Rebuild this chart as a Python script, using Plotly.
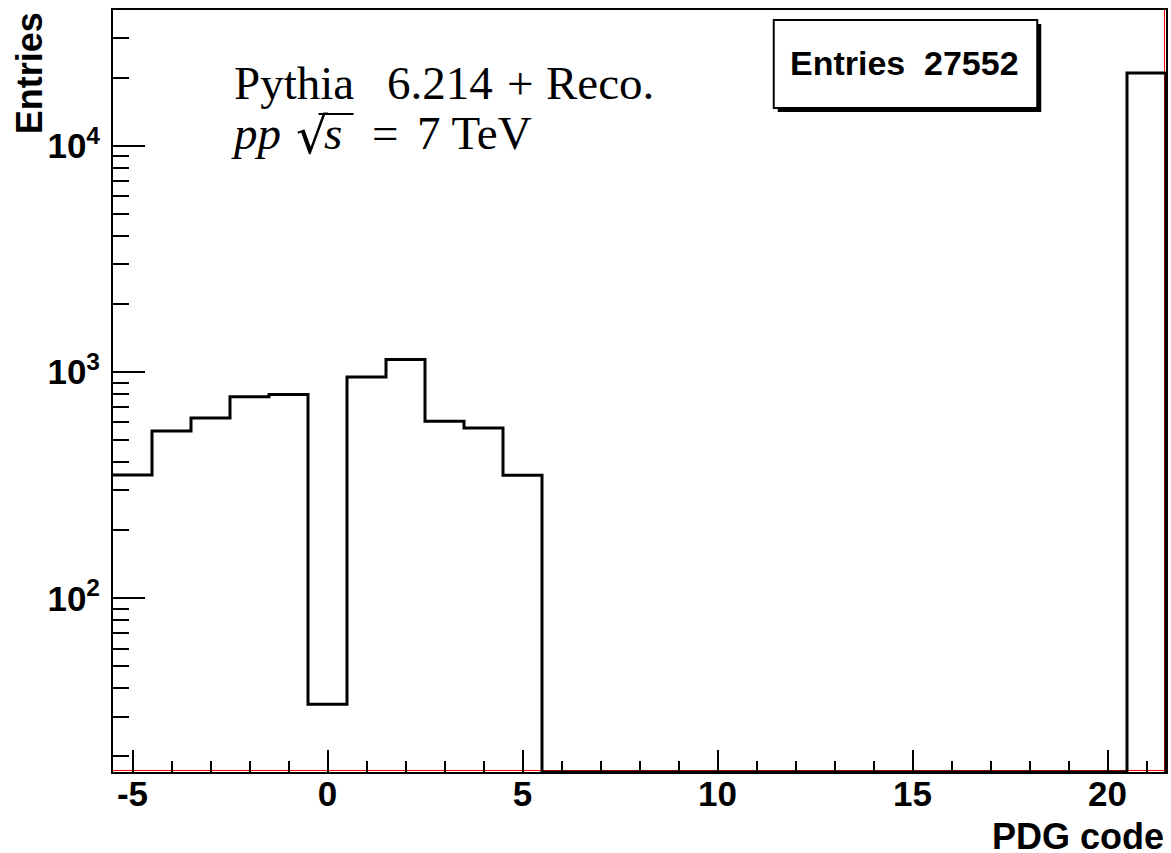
import plotly.graph_objects as go

# ---------------- data ----------------
bin_centers = list(range(-5, 22))  # PDG codes -5 .. 21
counts = [351, 550, 627, 778, 797, 34, 953, 1138, 607, 567, 350,
          0, 0, 0, 0, 0, 0, 0, 0, 0, 0, 0, 0, 0, 0, 0, 21000]
n_entries = 27552

x_tick_vals = [-5, 0, 5, 10, 15, 20]
x_tick_text = ["-5", "0", "5", "10", "15", "20"]
y_tick_vals = [100, 1000, 10000]
y_tick_text = ["10<sup>2</sup>", "10<sup>3</sup>", "10<sup>4</sup>"]
y_minor_vals = [m * 10 ** e for e in (1, 2, 3, 4) for m in range(2, 10)]

# ---------------- layout geometry ----------------
W_FIG, H_FIG = 1171, 853
L, R, T, B = 113, 1168, 10, 772
PW, PH = R - L, B - T
x_lo, x_hi = -5.5, 21.5
ylog_lo, ylog_hi = 1.2324, 4.601
floor_val = 10 ** ylog_lo


def px_x(p):
    return (p - L) / PW


def px_y(p):
    return (B - p) / PH


# step-histogram path from the bin contents
edges = [c - 0.5 for c in bin_centers] + [bin_centers[-1] + 0.5]
shown = [c if c > 0 else floor_val for c in counts]
xs = edges + [edges[-1]]
ys = shown + [shown[-1], floor_val]

fig = go.Figure()
fig.add_trace(go.Scatter(
    x=xs, y=ys, mode="lines", line=dict(shape="hv", color="black", width=3),
    showlegend=False, hoverinfo="skip", cliponaxis=False,
))

SANS = "Liberation Sans, Arial, sans-serif"
TICKF = dict(family=SANS, size=35, color="black", weight="bold")
TITLEF = dict(family=SANS, size=36, color="black", weight="bold")
STATF = dict(family=SANS, size=34, color="black", weight="bold")
SERIF = dict(family="Liberation Serif, Times New Roman, serif", size=47, color="black")
SERIF_I = dict(SERIF, style="italic")
SERIF_RAD = dict(family="DejaVu Serif, serif", size=50, color="black")

shapes = [
    # stats box shadow and box
    dict(type="rect", xref="paper", yref="paper",
         x0=px_x(779), x1=px_x(1043), y0=px_y(112), y1=px_y(24),
         fillcolor="black", line=dict(width=0), layer="above"),
    dict(type="rect", xref="paper", yref="paper",
         x0=px_x(775), x1=px_x(1039), y0=px_y(108), y1=px_y(20),
         fillcolor="white", line=dict(color="black", width=2), layer="above"),
    # red frame lines (bottom and right)
    dict(type="line", xref="paper", yref="paper",
         x0=0, x1=1, y0=px_y(B - 1.5), y1=px_y(B - 1.5),
         line=dict(color="red", width=1), layer="below"),
    dict(type="line", xref="paper", yref="paper",
         x0=px_x(R - 1.5), x1=px_x(R - 1.5), y0=0, y1=1,
         line=dict(color="red", width=1), layer="below"),
    # vinculum of the square root
    dict(type="line", xref="paper", yref="paper",
         x0=px_x(319), x1=px_x(354), y0=px_y(114), y1=px_y(114),
         line=dict(color="black", width=2), layer="above"),
]


def ann(text, xp, yp, xa, font, ya="middle", **kw):
    d = dict(text=text, xref="paper", yref="paper", x=px_x(xp), y=px_y(yp),
             xanchor=xa, yanchor=ya, showarrow=False, font=font)
    d.update(kw)
    return d


line1_mid = 83
line2_mid = 133
annotations = [
    ann("Pythia", 232, line1_mid, "left", SERIF),
    ann("6.214", 386, line1_mid, "left", SERIF),
    ann("+", 521, line1_mid, "center", SERIF),
    ann("Reco.", 657, line1_mid, "right", SERIF),
    ann("pp", 229, line2_mid, "left", SERIF_I),
    ann("√", 294, line2_mid + 3, "left", SERIF_RAD),
    ann("s", 322, line2_mid, "left", SERIF_I),
    ann("=", 386, line2_mid, "center", SERIF),
    ann("7 TeV", 416, line2_mid, "left", SERIF),
    ann("Entries", 789, 63, "left", STATF),
    ann(str(n_entries), 1023, 63, "right", STATF),
    # axis titles
    dict(text="PDG code", xref="paper", yref="paper",
         x=1, y=px_y(836), xanchor="right", yanchor="middle",
         showarrow=False, font=TITLEF),
    dict(text="Entries", xref="paper", yref="paper", textangle=-90,
         x=px_x(29), y=1, xanchor="center", yanchor="top",
         showarrow=False, font=TITLEF),
]

fig.update_layout(
    width=W_FIG, height=H_FIG,
    margin=dict(l=L, r=W_FIG - R, t=T, b=H_FIG - B),
    paper_bgcolor="white", plot_bgcolor="white",
    showlegend=False,
    shapes=shapes, annotations=annotations,
    xaxis=dict(
        range=[x_lo, x_hi], showgrid=False, zeroline=False,
        showline=True, linecolor="black", linewidth=2, mirror=True,
        tickmode="array", tickvals=x_tick_vals, ticktext=x_tick_text,
        ticks="inside", ticklen=22, tickwidth=1.5, tickcolor="black",
        minor=dict(ticks="inside", ticklen=11, tickwidth=1.5, tickcolor="black",
                   dtick=1, tick0=0, showgrid=False),
        tickfont=TICKF, ticklabelstandoff=-10,
    ),
    yaxis=dict(
        type="log", range=[ylog_lo, ylog_hi], showgrid=False, zeroline=False,
        showline=True, linecolor="black", linewidth=2, mirror=True,
        tickmode="array", tickvals=y_tick_vals, ticktext=y_tick_text,
        ticks="inside", ticklen=32, tickwidth=1.5, tickcolor="black",
        minor=dict(ticks="inside", ticklen=16, tickwidth=1.5, tickcolor="black",
                   tickmode="array", tickvals=y_minor_vals, showgrid=False),
        tickfont=TICKF, ticklabelstandoff=4,
    ),
)

fig.write_html("out.html")
